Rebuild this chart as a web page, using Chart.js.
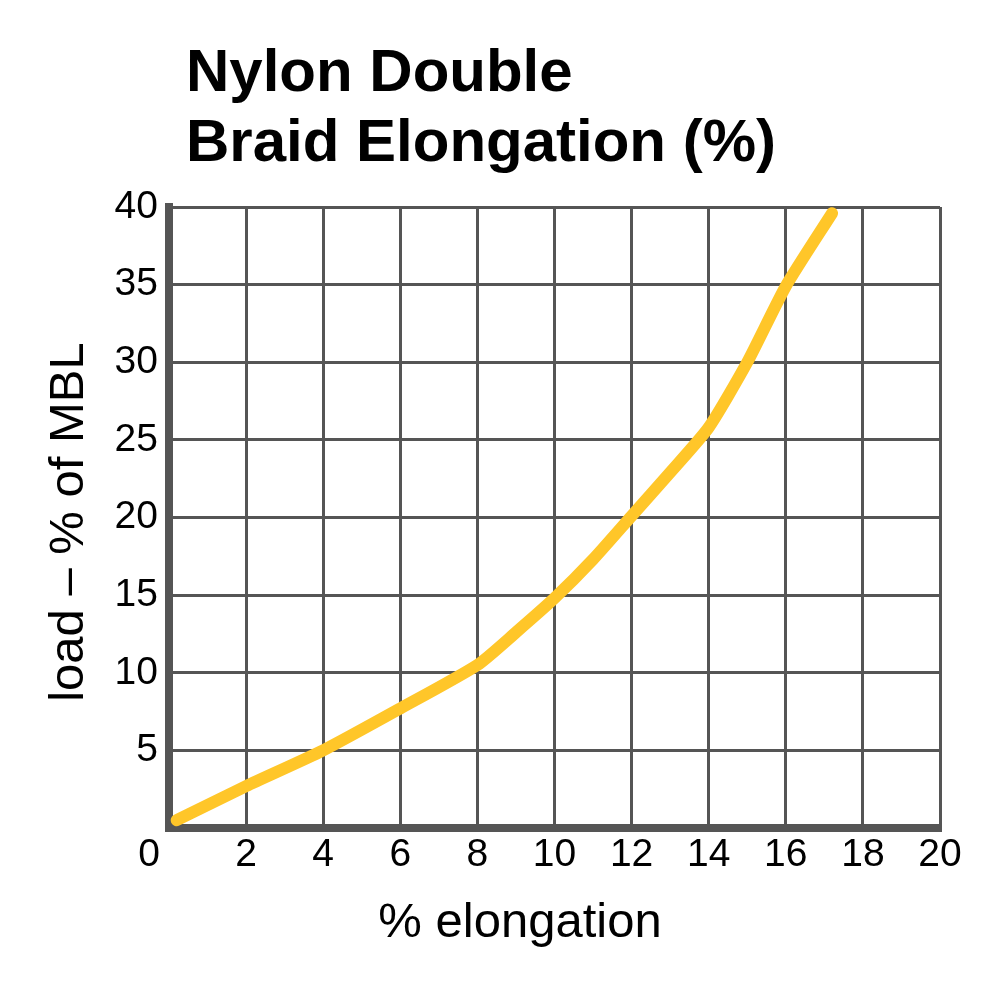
<!DOCTYPE html>
<html lang="en">
<head>
    <meta charset="UTF-8">
    <title>Nylon Double Braid Elongation (%)</title>
    <script src="https://cdn.jsdelivr.net/npm/chart.js"></script>
    <style>
        html, body { margin: 0; padding: 0; background: #ffffff; }
        #wrap { width: 1000px; height: 995px; }
    </style>
</head>
<body>
    <div id="wrap"><canvas id="nylonChart"></canvas></div>

    <script>
        // values
        const elongation = [0.2, 2, 4, 6, 8, 9, 10, 11, 12, 13, 14, 15, 16, 17.2];
        const loadPct    = [0.5, 2.7, 5.0, 7.7, 10.5, 12.6, 14.8, 17.3, 20.1, 22.9, 25.8, 30.0, 34.9, 39.6];

        const titleLines = ['Nylon Double', 'Braid Elongation (%)'];
        const xTitle = '% elongation';
        const yTitle = 'load \u2013 % of MBL';

        const FONT = '"Liberation Sans", Arial, Helvetica, sans-serif';
        const GRID = '#555555';

        // titles and the shifted "0" label drawn on the canvas
        const textPlugin = {
            id: 'textPlugin',
            afterDraw(chart) {
                const ctx = chart.ctx;
                const x = chart.scales.x;
                const y = chart.scales.y;
                ctx.save();
                ctx.fillStyle = '#000';
                ctx.textAlign = 'left';
                ctx.textBaseline = 'alphabetic';
                ctx.font = 'bold 60px ' + FONT;
                ctx.fillText(titleLines[0], 186, 91);
                ctx.fillText(titleLines[1], 186, 161);

                ctx.font = '49px ' + FONT;
                ctx.textAlign = 'center';
                ctx.fillText(xTitle, 520, 937);

                ctx.save();
                ctx.translate(83, 522);
                ctx.rotate(-Math.PI / 2);
                ctx.fillText(yTitle, 0, 0);
                ctx.restore();

                ctx.font = '39px ' + FONT;
                ctx.textBaseline = 'top';
                ctx.fillText('0', x.getPixelForValue(0) - 20, y.bottom + 8);
                ctx.restore();
            }
        };

        const ctx = document.getElementById('nylonChart').getContext('2d');
        const chart = new Chart(ctx, {
            type: 'line',
            data: {
                datasets: [{
                    data: elongation.map((v, i) => ({ x: v, y: loadPct[i] })),
                    borderColor: '#FFC629',
                    borderWidth: 12,
                    borderCapStyle: 'round',
                    borderJoinStyle: 'round',
                    tension: 0.2,
                    pointRadius: 0,
                    fill: false
                }]
            },
            options: {
                responsive: true,
                maintainAspectRatio: false,
                animation: false,
                layout: { padding: { top: 207, right: 60, left: 0, bottom: 0 } },
                plugins: {
                    legend: { display: false },
                    tooltip: { enabled: false }
                },
                scales: {
                    x: {
                        type: 'linear',
                        min: 0,
                        max: 20,
                        afterFit(s) { s.height = 167; },
                        grid: { color: GRID, lineWidth: 3, drawTicks: false },
                        border: { color: GRID, width: 8 },
                        ticks: {
                            stepSize: 2,
                            padding: 4,
                            color: '#000',
                            font: { family: FONT, size: 39 },
                            maxRotation: 0,
                            callback: v => v === 0 ? '' : v
                        }
                    },
                    y: {
                        min: 0,
                        max: 40,
                        afterFit(s) { s.width = 169; },
                        grid: { color: GRID, lineWidth: 3, drawTicks: false },
                        border: { color: GRID, width: 8 },
                        ticks: {
                            stepSize: 5,
                            padding: 11,
                            color: '#000',
                            font: { family: FONT, size: 39 },
                            callback: v => v === 0 ? '' : v
                        }
                    }
                }
            },
            plugins: [textPlugin]
        });
    </script>
</body>
</html>
